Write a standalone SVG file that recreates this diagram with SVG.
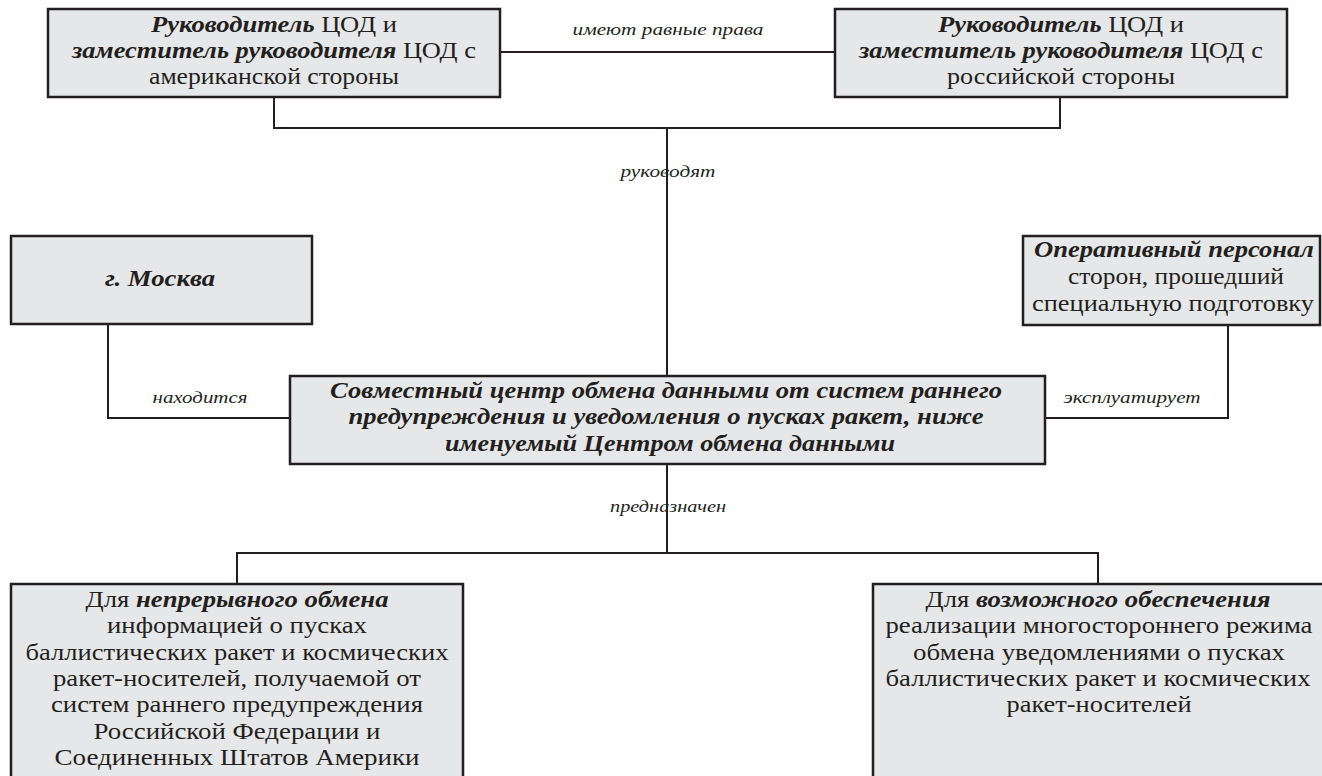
<svg xmlns="http://www.w3.org/2000/svg" width="1322" height="776" viewBox="0 0 1322 776">
<style>
.box{fill:#e6e7e8;stroke:#231f20;stroke-width:2.5}
.ln{fill:none;stroke:#231f20;stroke-width:2}
text{font-family:"Liberation Serif","Times New Roman",serif;fill:#231f20;text-anchor:middle}
.t{font-size:23px}
.c{font-size:23px;font-weight:bold;font-style:italic}
.b{font-size:24px}
.lb{font-size:17px;font-style:italic}
.bi{font-weight:bold;font-style:italic}
</style>
<rect width="1322" height="776" fill="#fff"/>
<g id="connectors">
<line class="ln" x1="500" y1="52" x2="835" y2="52"/>
<polyline class="ln" points="274,97 274,128 1060,128 1060,97"/>
<line class="ln" x1="667" y1="128" x2="667" y2="376"/>
<polyline class="ln" points="108,324 108,418 290,418"/>
<polyline class="ln" points="1228,325 1228,418 1045,418"/>
<line class="ln" x1="667" y1="464" x2="667" y2="553"/>
<polyline class="ln" points="237,584 237,553 1098,553 1098,584"/>
<text class="lb" x="668" y="35" textLength="191" lengthAdjust="spacingAndGlyphs">имеют равные права</text>
<text class="lb" x="668" y="177" textLength="95" lengthAdjust="spacingAndGlyphs">руководят</text>
<text class="lb" x="200" y="403" textLength="95" lengthAdjust="spacingAndGlyphs">находится</text>
<text class="lb" x="1132" y="403" textLength="137" lengthAdjust="spacingAndGlyphs">эксплуатирует</text>
<text class="lb" x="668" y="512" textLength="116" lengthAdjust="spacingAndGlyphs">предназначен</text>
</g>
<g id="head-us">
<rect class="box" x="48" y="9" width="452" height="88"/>
<text class="t" x="274" y="32" textLength="246" lengthAdjust="spacingAndGlyphs"><tspan class="bi">Руководитель</tspan> ЦОД и</text>
<text class="t" x="274" y="58" textLength="404" lengthAdjust="spacingAndGlyphs"><tspan class="bi">заместитель руководителя</tspan> ЦОД с</text>
<text class="t" x="274" y="84" textLength="250" lengthAdjust="spacingAndGlyphs">американской стороны</text>
</g>
<g id="head-ru">
<rect class="box" x="835" y="9" width="452" height="88"/>
<text class="t" x="1061" y="32" textLength="246" lengthAdjust="spacingAndGlyphs"><tspan class="bi">Руководитель</tspan> ЦОД и</text>
<text class="t" x="1061" y="58" textLength="404" lengthAdjust="spacingAndGlyphs"><tspan class="bi">заместитель руководителя</tspan> ЦОД с</text>
<text class="t" x="1061" y="84" textLength="228" lengthAdjust="spacingAndGlyphs">российской стороны</text>
</g>
<g id="moscow">
<rect class="box" x="11" y="236" width="301" height="88"/>
<text class="c" x="160" y="286" textLength="110" lengthAdjust="spacingAndGlyphs">г. Москва</text>
</g>
<g id="personnel">
<rect class="box" x="1023" y="236" width="297" height="89"/>
<text class="b" x="1174" y="257" textLength="280" lengthAdjust="spacingAndGlyphs"><tspan class="bi">Оперативный персонал</tspan></text>
<text class="b" x="1176" y="284" textLength="216" lengthAdjust="spacingAndGlyphs">сторон, прошедший</text>
<text class="b" x="1173" y="311" textLength="282" lengthAdjust="spacingAndGlyphs">специальную подготовку</text>
</g>
<g id="center">
<rect class="box" x="290" y="376" width="755" height="88"/>
<text class="c" x="666" y="398" textLength="672" lengthAdjust="spacingAndGlyphs">Совместный центр обмена данными от систем раннего</text>
<text class="c" x="666" y="424" textLength="635" lengthAdjust="spacingAndGlyphs">предупреждения и уведомления о пусках ракет, ниже</text>
<text class="c" x="670" y="451" textLength="450" lengthAdjust="spacingAndGlyphs">именуемый Центром обмена данными</text>
</g>
<g id="purpose-1">
<rect class="box" x="11" y="584" width="452" height="210"/>
<text class="b" x="237" y="607" textLength="303" lengthAdjust="spacingAndGlyphs">Для <tspan class="bi">непрерывного обмена</tspan></text>
<text class="b" x="237" y="633" textLength="260" lengthAdjust="spacingAndGlyphs">информацией о пусках</text>
<text class="b" x="237" y="660" textLength="423" lengthAdjust="spacingAndGlyphs">баллистических ракет и космических</text>
<text class="b" x="237" y="686" textLength="368" lengthAdjust="spacingAndGlyphs">ракет-носителей, получаемой от</text>
<text class="b" x="237" y="712" textLength="372" lengthAdjust="spacingAndGlyphs">систем раннего предупреждения</text>
<text class="b" x="237" y="739" textLength="287" lengthAdjust="spacingAndGlyphs">Российской Федерации и</text>
<text class="b" x="237" y="765" textLength="365" lengthAdjust="spacingAndGlyphs">Соединенных Штатов Америки</text>
</g>
<g id="purpose-2">
<rect class="box" x="873" y="584" width="470" height="210"/>
<text class="b" x="1098" y="607" textLength="345" lengthAdjust="spacingAndGlyphs">Для <tspan class="bi">возможного обеспечения</tspan></text>
<text class="b" x="1099" y="633" textLength="427" lengthAdjust="spacingAndGlyphs">реализации многостороннего режима</text>
<text class="b" x="1099" y="660" textLength="372" lengthAdjust="spacingAndGlyphs">обмена уведомлениями о пусках</text>
<text class="b" x="1098" y="686" textLength="425" lengthAdjust="spacingAndGlyphs">баллистических ракет и космических</text>
<text class="b" x="1099" y="712" textLength="185" lengthAdjust="spacingAndGlyphs">ракет-носителей</text>
</g>
</svg>
